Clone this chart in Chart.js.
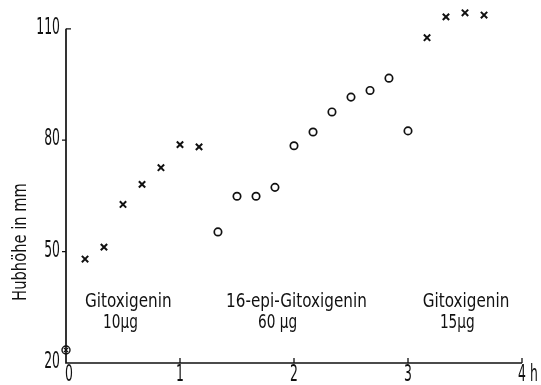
<!DOCTYPE html>
<html>
<head>
<meta charset="utf-8">
<script src="https://cdn.jsdelivr.net/npm/chart.js@4"></script>
<style>
  html, body { margin: 0; padding: 0; background: #fff; }
  #wrap { width: 541px; height: 385px; }
</style>
</head>
<body>
<div id="wrap"><canvas id="graf" width="541" height="385"></canvas></div>
<script>
// Zeit in Stunden, Hubhoehe in mm
var zeit_a = [0.167, 0.333, 0.5, 0.667, 0.833, 1.0, 1.167];
var hub_a = [48.0, 51.2, 62.7, 68.1, 72.6, 78.8, 78.2];

var zeit_epi = [1.333, 1.5, 1.667, 1.833, 2.0, 2.167, 2.333, 2.5, 2.667, 2.833, 3.0];
var hub_epi = [55.3, 64.9, 64.9, 67.3, 78.5, 82.2, 87.6, 91.6, 93.4, 96.7, 82.5];

var zeit_b = [3.167, 3.333, 3.5, 3.667];
var hub_b = [107.6, 113.2, 114.3, 113.7];

var zeit_null = [0];
var hub_null = [23.5];

var y_ticks = [20, 50, 80, 110];
var x_ticks = [0, 1, 2, 3, 4];
var x_tick_labels = ['0', '1', '2', '3', '4 h'];
var y_naslov = 'Hubh\u00f6he in mm';

var natpisi = [
  ['Gitoxigenin', '10\u00b5g'],
  ['16-epi-Gitoxigenin', '60 \u00b5g'],
  ['Gitoxigenin', '15\u00b5g']
];

var FONT = '"DejaVu Sans Condensed", sans-serif';

function tacke(xs, ys) {
  var out = [];
  for (var i = 0; i < xs.length; i++) out.push({x: xs[i], y: ys[i]});
  return out;
}

// uzak tekst: font se suzi po x
function tekst(ctx, str, x, y, sx) {
  ctx.save();
  ctx.translate(x, y);
  ctx.scale(sx, 1);
  ctx.fillText(str, 0, 0);
  ctx.restore();
}

// ose, brojevi i natpisi crtaju se rucno (ticks okrenuti ka unutra)
var osePlugin = {
  id: 'ose',
  afterDraw: function(chart) {
    var ctx = chart.ctx;
    var xs = chart.scales.x, ys = chart.scales.y;
    var a = chart.chartArea;
    var gore = ys.getPixelForValue(110);
    ctx.save();
    ctx.strokeStyle = '#111';
    ctx.lineWidth = 1.7;
    ctx.beginPath();
    ctx.moveTo(a.left, gore);
    ctx.lineTo(a.left, a.bottom);
    ctx.lineTo(xs.getPixelForValue(4), a.bottom);
    ctx.stroke();
    ctx.lineWidth = 1.3;
    ctx.beginPath();
    ctx.moveTo(a.left, gore);
    ctx.lineTo(a.left + 5, gore);
    for (var i = 1; i < x_ticks.length; i++) {
      var px = xs.getPixelForValue(x_ticks[i]);
      ctx.moveTo(px, a.bottom);
      ctx.lineTo(px, a.bottom - 5);
    }
    for (var j = 1; j < y_ticks.length - 1; j++) {
      var py = ys.getPixelForValue(y_ticks[j]);
      ctx.moveTo(a.left, py);
      ctx.lineTo(a.left - 4, py);
    }
    ctx.stroke();

    ctx.fillStyle = '#111';

    // brojevi na osama, visoki i uski
    ctx.font = '23px ' + FONT;
    ctx.textAlign = 'right';
    ctx.textBaseline = 'middle';
    for (var m = 0; m < y_ticks.length; m++) {
      tekst(ctx, String(y_ticks[m]), a.left - 6, ys.getPixelForValue(y_ticks[m]) - 1, 0.6);
    }
    ctx.textAlign = 'left';
    ctx.textBaseline = 'top';
    for (var n = 0; n < x_tick_labels.length; n++) {
      var lab = x_tick_labels[n];
      var w0 = ctx.measureText(lab.charAt(0)).width * 0.6;
      tekst(ctx, lab, xs.getPixelForValue(x_ticks[n]) - w0 / 2 + (n === 0 ? 3 : 0), a.bottom + 1, 0.6);
    }

    ctx.font = '19px ' + FONT;
    // naslov y ose
    ctx.save();
    ctx.translate(21, 242);
    ctx.rotate(-Math.PI / 2);
    ctx.textAlign = 'center';
    ctx.textBaseline = 'middle';
    tekst(ctx, y_naslov, 0, 0, 0.86);
    ctx.restore();

    // natpisi za grupe
    ctx.textAlign = 'left';
    ctx.textBaseline = 'alphabetic';
    var mesta = [[0.167, 0.325], [1.404, 1.684], [3.13, 3.28]];
    for (var k = 0; k < natpisi.length; k++) {
      tekst(ctx, natpisi[k][0], xs.getPixelForValue(mesta[k][0]), ys.getPixelForValue(35.2), 0.89);
      tekst(ctx, natpisi[k][1], xs.getPixelForValue(mesta[k][1]), ys.getPixelForValue(29.4), 0.8);
    }
    ctx.restore();
  }
};

var ctx = document.getElementById('graf').getContext('2d');
var grafikon = new Chart(ctx, {
  type: 'scatter',
  data: {
    datasets: [
      {
        label: 'Gitoxigenin 10',
        data: tacke(zeit_a, hub_a),
        pointStyle: 'crossRot',
        pointRadius: 4.5,
        borderColor: '#111',
        borderWidth: 2,
        clip: false
      },
      {
        label: '16-epi',
        data: tacke(zeit_epi, hub_epi),
        pointStyle: 'circle',
        pointRadius: 3.7,
        backgroundColor: '#fff',
        borderColor: '#111',
        borderWidth: 1.7,
        clip: false
      },
      {
        label: 'Gitoxigenin 15',
        data: tacke(zeit_b, hub_b),
        pointStyle: 'crossRot',
        pointRadius: 4.5,
        borderColor: '#111',
        borderWidth: 2,
        clip: false
      },
      {
        label: 'null o',
        data: tacke(zeit_null, hub_null),
        pointStyle: 'circle',
        pointRadius: 4,
        backgroundColor: 'rgba(0,0,0,0)',
        borderColor: '#111',
        borderWidth: 1.4,
        clip: false
      },
      {
        label: 'null x',
        data: tacke(zeit_null, hub_null),
        pointStyle: 'crossRot',
        pointRadius: 3,
        borderColor: '#111',
        borderWidth: 1.3,
        clip: false
      }
    ]
  },
  options: {
    responsive: false,
    animation: false,
    layout: { padding: { top: 3.5, right: 19, left: 0, bottom: 0 } },
    plugins: { legend: { display: false }, tooltip: { enabled: false } },
    scales: {
      x: {
        type: 'linear',
        min: 0, max: 4,
        afterFit: function(s) { s.height = 22; },
        border: { display: false },
        grid: { display: false },
        ticks: { display: false }
      },
      y: {
        type: 'linear',
        min: 20, max: 116,
        afterFit: function(s) { s.width = 66; },
        border: { display: false },
        grid: { display: false },
        ticks: { display: false }
      }
    }
  },
  plugins: [osePlugin]
});
</script>
</body>
</html>
